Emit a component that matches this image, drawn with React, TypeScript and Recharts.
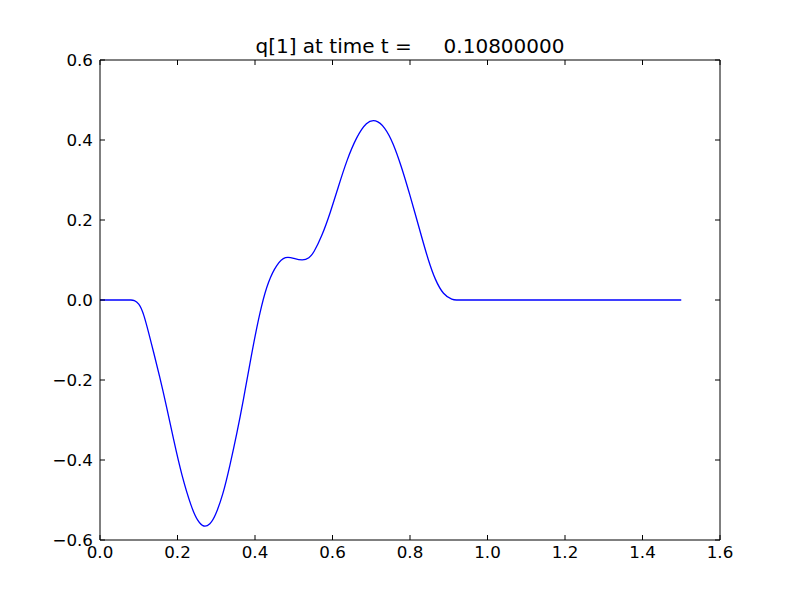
import React from "react";
import { LineChart, Line, XAxis, YAxis } from "recharts";

const xValues = [0, 0.04, 0.07, 0.08, 0.088, 0.1, 0.112, 0.133, 0.155, 0.172, 0.189, 0.211, 0.237, 0.252, 0.268, 0.284, 0.297, 0.318, 0.335, 0.353, 0.37, 0.387, 0.4, 0.417, 0.434, 0.456, 0.479, 0.5, 0.523, 0.54, 0.551, 0.572, 0.594, 0.615, 0.637, 0.662, 0.688, 0.711, 0.735, 0.757, 0.778, 0.796, 0.813, 0.83, 0.847, 0.865, 0.886, 0.91, 0.92, 0.93, 0.96, 1.2, 1.5];
const qValues = [0, 0, 0, 0, 0, -0.008, -0.03, -0.11, -0.195, -0.268, -0.345, -0.44, -0.522, -0.553, -0.569, -0.561, -0.542, -0.485, -0.415, -0.335, -0.25, -0.158, -0.09, -0.012, 0.046, 0.09, 0.11, 0.104, 0.098, 0.105, 0.117, 0.158, 0.217, 0.283, 0.35, 0.408, 0.446, 0.452, 0.433, 0.392, 0.333, 0.275, 0.217, 0.158, 0.1, 0.05, 0.013, 0, 0, 0, 0, 0, 0];
const xTicks = [0, 0.2, 0.4, 0.6, 0.8, 1.0, 1.2, 1.4, 1.6];
const yTicks = [-0.6, -0.4, -0.2, 0, 0.2, 0.4, 0.6];
const titleText = "q[1] at time t =     0.10800000";

const data = xValues.map((x, i) => ({ x, q: qValues[i] }));

const FONT = "'DejaVu Sans', sans-serif";
const fmt = (v: number) => {
  const s = Math.abs(v).toFixed(1);
  return v < -1e-9 ? "\u2212" + s : s;
};

const BottomTick = (props: any) => {
  const { x, y, payload } = props;
  return (
    <g>
      <line x1={x} y1={y} x2={x} y2={y - 5} stroke="#000" strokeWidth={1} />
      <text x={x} y={y + 18} textAnchor="middle" fontFamily={FONT} fontSize={16.7} fill="#000">
        {fmt(payload.value)}
      </text>
    </g>
  );
};
const TopTick = (props: any) => {
  const { x, y } = props;
  return <line x1={x} y1={y} x2={x} y2={y + 5} stroke="#000" strokeWidth={1} />;
};
const LeftTick = (props: any) => {
  const { x, y, payload } = props;
  return (
    <g>
      <line x1={x} y1={y} x2={x + 5} y2={y} stroke="#000" strokeWidth={1} />
      <text x={x - 7} y={y} dy="0.36em" textAnchor="end" fontFamily={FONT} fontSize={16.7} fill="#000">
        {fmt(payload.value)}
      </text>
    </g>
  );
};
const RightTick = (props: any) => {
  const { x, y } = props;
  return <line x1={x} y1={y} x2={x - 5} y2={y} stroke="#000" strokeWidth={1} />;
};

export default function App() {
  return (
    <div style={{ position: "absolute", left: 0, top: 0, width: 800, height: 600, background: "#fff" }}>
      <LineChart width={800} height={600} data={data} margin={{ top: 0, right: 0, bottom: 0, left: 0 }}>
        <text x={410} y={53} textAnchor="middle" fontFamily={FONT} fontSize={20} fill="#000" style={{ whiteSpace: "pre" }} xmlSpace="preserve">
          {titleText}
        </text>
        <XAxis xAxisId="b" dataKey="x" type="number" domain={[0, 1.6]} ticks={xTicks} orientation="bottom" height={60} tickSize={0} tickMargin={0} tickLine={false} axisLine={{ stroke: "#000" }} tick={<BottomTick />} interval={0} allowDataOverflow />
        <XAxis xAxisId="t" dataKey="x" type="number" domain={[0, 1.6]} ticks={xTicks} orientation="top" height={60} tickSize={0} tickMargin={0} tickLine={false} axisLine={{ stroke: "#000" }} tick={<TopTick />} interval={0} allowDataOverflow />
        <YAxis yAxisId="l" type="number" domain={[-0.6, 0.6]} ticks={yTicks} orientation="left" width={100} tickSize={0} tickMargin={0} tickLine={false} axisLine={{ stroke: "#000" }} tick={<LeftTick />} interval={0} allowDataOverflow />
        <YAxis yAxisId="r" type="number" domain={[-0.6, 0.6]} ticks={yTicks} orientation="right" width={80} tickSize={0} tickMargin={0} tickLine={false} axisLine={{ stroke: "#000" }} tick={<RightTick />} interval={0} allowDataOverflow />
        <Line xAxisId="b" yAxisId="l" dataKey="q" type="basis" stroke="#0000ff" strokeWidth={1.3} dot={false} activeDot={false} isAnimationActive={false} />
      </LineChart>
    </div>
  );
}
